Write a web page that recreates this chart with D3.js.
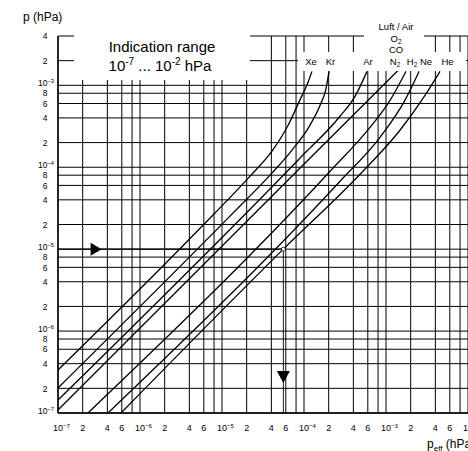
<!DOCTYPE html>
<html>
<head>
<meta charset="utf-8">
<script src="https://d3js.org/d3.v7.min.js"></script>
<style>
  body { margin: 0; background: #fff; }
  svg { display: block; font-family: "Liberation Sans", Arial, Helvetica, sans-serif; }
</style>
</head>
<body>
<div id="chart"></div>
<script>
// tick values + labels ("^" marks a superscript part)
var xTickVals = [1e-7, 2e-7, 4e-7, 6e-7, 1e-6, 2e-6, 4e-6, 6e-6, 1e-5, 2e-5, 4e-5, 6e-5,
                 1e-4, 2e-4, 4e-4, 6e-4, 1e-3, 2e-3, 4e-3, 6e-3, 1e-2];
var xTickText = ["10^−7", "2", "4", "6", "10^−6", "2", "4", "6", "10^−5", "2", "4", "6",
                 "10^−4", "2", "4", "6", "10^−3", "2", "4", "6", "10^−2"];
var yTickVals = [1e-7, 2e-7, 4e-7, 6e-7, 8e-7, 1e-6, 2e-6, 4e-6, 6e-6, 8e-6, 1e-5, 2e-5, 4e-5,
                 6e-5, 8e-5, 1e-4, 2e-4, 4e-4, 6e-4, 8e-4, 1e-3, 2e-3, 4e-3];
var yTickText = ["10^−7", "2", "4", "6", "8", "10^−6", "2", "4", "6", "8", "10^−5", "2", "4",
                 "6", "8", "10^−4", "2", "4", "6", "8", "10^−3", "2", "4"];
var xGridVals = [1e-7, 2e-7, 4e-7, 6e-7, 8e-7, 1e-6, 2e-6, 4e-6, 6e-6, 8e-6, 1e-5, 2e-5, 4e-5,
                 6e-5, 8e-5, 1e-4, 2e-4, 4e-4, 6e-4, 8e-4, 1e-3, 2e-3, 4e-3, 6e-3, 8e-3, 1e-2];

// curves: [p_eff, p] in hPa
var curveXe = [[1e-7, 3.35e-7], [5.4e-6, 1.8e-5], [2.2e-5, 7.8e-5], [4.07e-5, 1.57e-4],
               [6.4e-5, 3.25e-4], [8.9e-5, 6.6e-4], [1.12e-4, 1.09e-3], [1.25e-4, 1.48e-3]];
var curveKr = [[1e-7, 2.02e-7], [1.25e-5, 2.53e-5], [3.85e-5, 8.0e-5], [7.1e-5, 1.61e-4],
               [1.18e-4, 3.25e-4], [1.57e-4, 5.7e-4], [1.86e-4, 9.2e-4], [2.02e-4, 1.48e-3]];
var curveAr = [[1e-7, 1.44e-7], [8.9e-5, 1.29e-4], [2.75e-4, 4.19e-4], [4.19e-4, 7.34e-4],
               [5.87e-4, 1.48e-3]];
var curveN2 = [[1e-7, 1.09e-7], [8.9e-5, 9.7e-5], [1.4e-3, 1.52e-3]];
var curveH2 = [[2.32e-7, 1e-7], [2.08e-4, 8.94e-5], [6.38e-4, 3.07e-4], [1.12e-3, 6.56e-4],
               [1.75e-3, 1.48e-3]];
var curveNe = [[4.07e-7, 1e-7], [2.75e-4, 6.75e-5], [8.45e-4, 2.32e-4], [1.7e-3, 6.56e-4],
               [2.53e-3, 1.48e-3]];
var curveHe = [[5.87e-7, 1e-7], [5.6e-5, 1e-5], [4.82e-4, 8.21e-5], [1.48e-3, 2.83e-4],
               [2.99e-3, 7.55e-4], [4.56e-3, 1.48e-3]];

var gasNames = ["Xe", "Kr", "Ar", "N_2", "H_2", "Ne", "He"];
var airNames = ["Luft / Air", "O_2", "CO"];

// reading example (arrow)
var arrowP = 1e-5, arrowPeff = 5.6e-5;

var W = 468, H = 451;
var svg = d3.select("#chart").append("svg")
  .attr("width", W).attr("height", H);

var x = d3.scaleLog().domain([1e-7, 1e-2]).range([58, 468]);
var y = d3.scaleLog().domain([1e-7, 4e-3]).range([413, 36]);

// grid
svg.append("g").selectAll("line").data(xGridVals).enter().append("line")
  .attr("x1", d => x(d)).attr("x2", d => x(d))
  .attr("y1", y(4e-3)).attr("y2", y(1e-7))
  .attr("stroke", "#000").attr("stroke-width", 1);
svg.append("g").selectAll("line").data(yTickVals).enter().append("line")
  .attr("x1", x(1e-7)).attr("x2", W)
  .attr("y1", d => y(d)).attr("y2", d => y(d))
  .attr("stroke", "#000").attr("stroke-width", 1);

// curves
svg.append("clipPath").attr("id", "plotclip").append("rect")
  .attr("x", 58).attr("y", 30).attr("width", 410).attr("height", 383);

var line = d3.line()
  .x(d => x(d[0])).y(d => y(d[1]))
  .curve(d3.curveMonotoneX);

var curves = [curveXe, curveKr, curveAr, curveN2, curveH2, curveNe, curveHe];
svg.append("g").attr("clip-path", "url(#plotclip)")
  .selectAll("path").data(curves).enter().append("path")
  .attr("d", line)
  .attr("fill", "none").attr("stroke", "#000").attr("stroke-width", 1.3);

// reading arrow
svg.append("line")
  .attr("x1", x(1e-7)).attr("x2", x(arrowPeff))
  .attr("y1", y(arrowP)).attr("y2", y(arrowP))
  .attr("stroke", "#000").attr("stroke-width", 1.2);
svg.append("line")
  .attr("x1", x(arrowPeff)).attr("x2", x(arrowPeff))
  .attr("y1", y(arrowP)).attr("y2", y(1e-7))
  .attr("stroke", "#000").attr("stroke-width", 0.9);
svg.append("path")
  .attr("d", "M0,-6.5L11,0L0,6.5Z")
  .attr("transform", "translate(" + x(2.5e-7) + "," + y(arrowP) + ")");
svg.append("path")
  .attr("d", "M-6.5,0L6.5,0L0,12Z")
  .attr("transform", "translate(" + x(arrowPeff) + "," + y(3.25e-7) + ")");
svg.append("circle")
  .attr("cx", x(arrowPeff)).attr("cy", y(arrowP)).attr("r", 2)
  .attr("fill", "#fff").attr("stroke", "#000").attr("stroke-width", 0.8);

// white label areas
svg.append("rect").attr("x", 74).attr("y", 28).attr("width", 176).attr("height", 52).attr("fill", "#fff");
svg.append("rect").attr("x", 298).attr("y", 52).attr("width", 168).attr("height", 19).attr("fill", "#fff");
svg.append("rect").attr("x", 364).attr("y", 12).attr("width", 60).attr("height", 41).attr("fill", "#fff");

// axes frame
svg.append("line").attr("x1", 58).attr("x2", 58).attr("y1", y(4e-3)).attr("y2", y(1e-7))
  .attr("stroke", "#000").attr("stroke-width", 1.4);
svg.append("line").attr("x1", 58).attr("x2", W).attr("y1", y(1e-7)).attr("y2", y(1e-7))
  .attr("stroke", "#000").attr("stroke-width", 1.4);

// text helper: "a^b" superscript, "a_b" subscript
function rich(g, str, px, py, size, anchor) {
  var t = g.append("text").attr("x", px).attr("y", py)
    .attr("font-size", size).attr("text-anchor", anchor || "start").attr("fill", "#000");
  var m = str.match(/^([^\^_]*)([\^_])([^ ]*)(.*)$/);
  if (!m) { t.text(str); return t; }
  t.append("tspan").text(m[1]);
  var up = m[2] === "^";
  t.append("tspan").attr("font-size", size * 0.68)
    .attr("dy", up ? -size * 0.38 : size * 0.22).text(m[3]);
  if (m[4]) t.append("tspan").attr("dy", up ? size * 0.38 : -size * 0.22).text(m[4]);
  return t;
}

// x tick labels
xTickVals.forEach(function (v, i) {
  var s = xTickText[i];
  if (s.indexOf("^") >= 0) rich(svg, s, x(v) - 5, 431, 9, "start");
  else rich(svg, s, x(v), 431, 9, "middle");
});
// y tick labels
yTickVals.forEach(function (v, i) {
  var s = yTickText[i];
  if (s.indexOf("^") >= 0) rich(svg, s, 54, y(v) + 1, 8.5, "end");
  else rich(svg, s, 47.5, y(v) + 3.2, 8.5, "end");
});

// axis titles
svg.append("text").attr("x", 23).attr("y", 21).attr("font-size", 12).text("p (hPa)");
var xt = svg.append("text").attr("x", 427).attr("y", 448).attr("font-size", 12);
xt.append("tspan").text("p");
xt.append("tspan").attr("font-size", 8).attr("dy", 2.5).text("eff");
xt.append("tspan").attr("dy", -2.5).text(" (hPa)");

// indication range box text
svg.append("text").attr("x", 162).attr("y", 52).attr("font-size", 15)
  .attr("text-anchor", "middle").text("Indication range");
var ir = svg.append("text").attr("x", 160).attr("y", 71).attr("font-size", 15)
  .attr("text-anchor", "middle");
ir.append("tspan").text("10");
ir.append("tspan").attr("font-size", 10).attr("dy", -6).text("-7");
ir.append("tspan").attr("dy", 6).text(" ... 10");
ir.append("tspan").attr("font-size", 10).attr("dy", -6).text("-2");
ir.append("tspan").attr("dy", 6).text(" hPa");

// gas labels
var gasLabelX = [311, 330.5, 368, 395, 412, 426, 447.5];
gasNames.forEach(function (n, i) {
  rich(svg, n, gasLabelX[i], 65, 9.5, "middle");
});
var airLabelY = [30, 42, 53];
airNames.forEach(function (n, i) {
  rich(svg, n, 396, airLabelY[i], 9.5, "middle");
});
</script>
</body>
</html>
